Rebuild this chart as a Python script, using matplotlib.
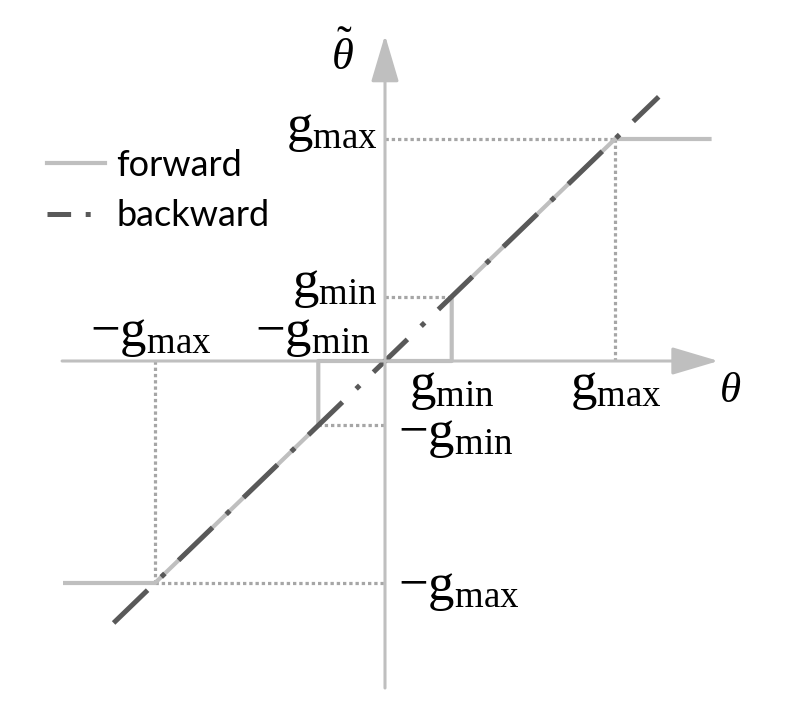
import matplotlib
matplotlib.use("Agg")
import matplotlib.pyplot as plt
from matplotlib.lines import Line2D

plt.rcParams['mathtext.fontset'] = 'custom'
plt.rcParams['mathtext.rm'] = 'Liberation Serif'
plt.rcParams['mathtext.it'] = 'Liberation Serif:italic'
plt.rcParams['lines.scale_dashes'] = False

# threshold values (in units of g_max)
g_min = 0.29
g_max = 1.0

# forward: dead zone below g_min, identity between, clipped above g_max
fwd_x = [-1.40, -g_max, -g_min, -g_min, g_min, g_min, g_max, 1.42]
fwd_y = [-g_max, -g_max, -g_min, 0, 0, g_min, g_max, g_max]

# backward: straight-through identity
bwd_x = [-1.18, 1.19]
bwd_y = [-1.18, 1.19]

axis_x = (-1.404, 1.45)
axis_y = (-1.473, 1.468)

AXIS_C = '#bfbfbf'
FWD_C = '#bfbfbf'
BWD_C = '#595959'
DOT_C = '#a6a6a6'

fig = plt.figure(figsize=(7.92, 7.24), dpi=100)
ax = fig.add_axes([0, 0, 1, 1])
ax.set_xlim(-385 / 230, (792 - 385) / 230)
ax.set_ylim(-(724 - 361) / 222, 361 / 222)
ax.axis('off')

arrow = dict(arrowstyle='-|>,head_length=29,head_width=8.6', color=AXIS_C,
             lw=2.2, shrinkA=0, shrinkB=0, mutation_scale=1)
ax.annotate('', xy=(axis_x[1], 0), xytext=(axis_x[0], 0), arrowprops=arrow)
ax.annotate('', xy=(0, axis_y[1]), xytext=(0, axis_y[0]), arrowprops=arrow)

# dotted guides
dot = dict(color=DOT_C, lw=2.3, dashes=(2.4, 2.1))
ax.plot([0, g_max], [g_max, g_max], **dot)
ax.plot([g_max, g_max], [0, g_max], **dot)
ax.plot([0, g_min], [g_min, g_min], **dot)
ax.plot([-g_min, 0], [-g_min, -g_min], **dot)
ax.plot([-g_max, 0], [-g_max, -g_max], **dot)
ax.plot([-g_max, -g_max], [-g_max, 0], **dot)

ax.plot(fwd_x, fwd_y, color=FWD_C, lw=3.0, solid_capstyle='butt')
ax.plot(bwd_x, bwd_y, color=BWD_C, lw=3.6, dashes=(34, 13.7, 3.6, 13.7),
        solid_capstyle='butt', dash_capstyle='butt')

fs = 38
def lab(s, xy, dx, dy, ha):
    ax.annotate(s, xy=xy, xytext=(dx, dy), textcoords='offset points',
                ha=ha, va='center', fontsize=fs)

lab(r'$\mathrm{g}_{\mathrm{max}}$', (0, g_max), -5, 8, 'right')
lab(r'$\mathrm{g}_{\mathrm{min}}$', (0, g_min), -5, 9, 'right')
lab(r'$-\mathrm{g}_{\mathrm{min}}$', (0, -g_min), 9, -6, 'left')
lab(r'$-\mathrm{g}_{\mathrm{max}}$', (0, -g_max), 9, -3, 'left')
lab(r'$-\mathrm{g}_{\mathrm{max}}$', (-g_max, 0), -3, 20, 'center')
lab(r'$-\mathrm{g}_{\mathrm{min}}$', (-g_min, 0), -4, 20, 'center')
lab(r'$\mathrm{g}_{\mathrm{min}}$', (g_min, 0), 0, -18, 'center')
lab(r'$\mathrm{g}_{\mathrm{max}}$', (g_max, 0), 1, -18, 'center')

ax.annotate(r'$\theta$', xy=(axis_x[1], 0), xytext=(8, -21),
            textcoords='offset points', ha='center', va='center', fontsize=31)
ax.annotate(r'$\tilde{\theta}$', xy=(0, axis_y[1]), xytext=(-31, -15),
            textcoords='offset points', ha='center', va='center', fontsize=32)

handles = [Line2D([], [], color=FWD_C, lw=3.0),
           Line2D([], [], color=BWD_C, lw=3.6, dashes=(17, 10.5, 3.6, 20))]
ax.legend(handles, ['forward', 'backward'], loc='upper left',
          bbox_to_anchor=(0.018, 0.839), frameon=False, handlelength=1.6,
          handletextpad=0.32, labelspacing=0.48,
          prop={'family': 'Lato', 'size': 26})

fig.savefig('out.png', dpi=100)
